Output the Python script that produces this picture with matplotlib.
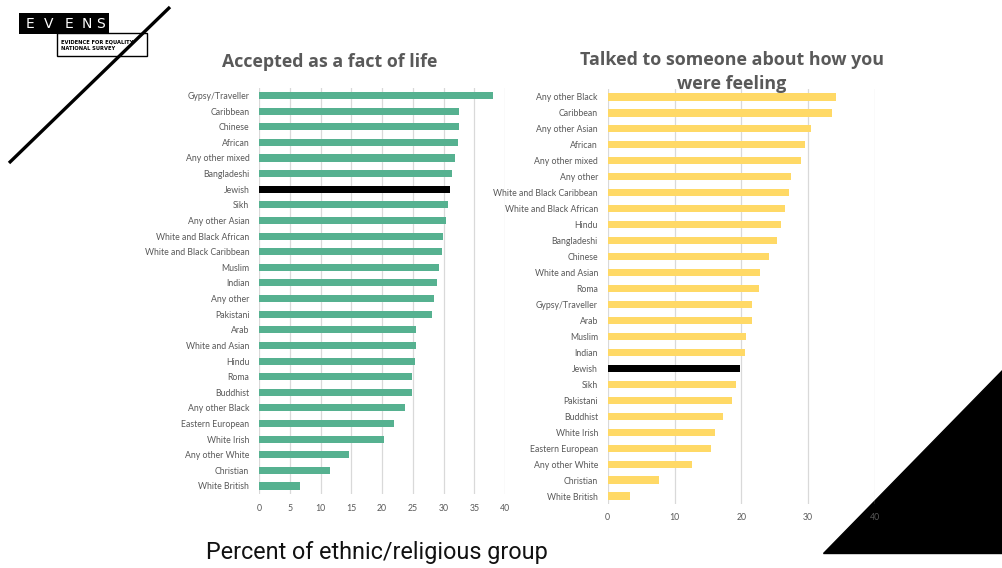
import numpy as np
import matplotlib
matplotlib.use("Agg")
import matplotlib.pyplot as plt
from matplotlib.patches import Polygon, Rectangle

# survey results: percent of each group
fact_groups = ["Gypsy/Traveller", "Caribbean", "Chinese", "African", "Any other mixed",
               "Bangladeshi", "Jewish", "Sikh", "Any other Asian", "White and Black African",
               "White and Black Caribbean", "Muslim", "Indian", "Any other", "Pakistani",
               "Arab", "White and Asian", "Hindu", "Roma", "Buddhist", "Any other Black",
               "Eastern European", "White Irish", "Any other White", "Christian", "White British"]
fact_pct = [38.0, 32.6, 32.6, 32.3, 31.8, 31.4, 31.1, 30.7, 30.4, 29.9, 29.7, 29.3, 28.9,
            28.5, 28.1, 25.5, 25.5, 25.3, 24.9, 24.8, 23.7, 22.0, 20.3, 14.6, 11.5, 6.7]

talk_groups = ["Any other Black", "Caribbean", "Any other Asian", "African", "Any other mixed",
               "Any other", "White and Black Caribbean", "White and Black African", "Hindu",
               "Bangladeshi", "Chinese", "White and Asian", "Roma", "Gypsy/Traveller", "Arab",
               "Muslim", "Indian", "Jewish", "Sikh", "Pakistani", "Buddhist", "White Irish",
               "Eastern European", "Any other White", "Christian", "White British"]
talk_pct = [34.1, 33.5, 30.4, 29.5, 28.9, 27.4, 27.1, 26.5, 26.0, 25.3, 24.2, 22.8, 22.7,
            21.6, 21.6, 20.7, 20.5, 19.8, 19.2, 18.6, 17.2, 16.1, 15.5, 12.6, 7.7, 3.4]

GREEN = "#56b190"
YELLOW = "#ffd966"
GREY_TXT = "#595959"
GRID = "#d9d9d9"
W, H = 1002, 568

plt.rcParams['font.family'] = ['Lato', 'DejaVu Sans']

fig = plt.figure(figsize=(W / 100, H / 100), dpi=100)

# background decorations in pixel coordinates
bg = fig.add_axes([0, 0, 1, 1], zorder=0)
bg.set_xlim(0, W)
bg.set_ylim(H, 0)
bg.axis("off")
bg.add_patch(Polygon([(823, 553), (W, 553), (W, 370)], closed=True, color="black"))
bg.plot([9, 170], [163, 7], color="black", lw=2.4, solid_capstyle="butt")
bg.add_patch(Rectangle((57, 33), 90, 23, facecolor="white", edgecolor="black", lw=1))
bg.add_patch(Rectangle((19, 13), 90, 21, facecolor="black", edgecolor="none"))
for x, ch in zip([30, 49, 69, 87, 101], "EVENS"):
    bg.text(x, 23.5, ch, color="white", fontsize=10, ha="center", va="center",
            family="DejaVu Sans")
bg.text(61, 41.5, "EVIDENCE FOR EQUALITY", fontsize=3.7, weight="bold", va="center",
        family="DejaVu Sans")
bg.text(61, 49, "NATIONAL SURVEY", fontsize=3.7, weight="bold", va="center",
        family="DejaVu Sans")
bg.text(377, 553, "Percent of ethnic/religious group", fontsize=16.8, ha="center",
        va="center", family="Roboto", color="#111111")


def px_axes(x0, x1, top, bottom):
    return fig.add_axes([x0 / W, (H - bottom) / H, (x1 - x0) / W, (bottom - top) / H], zorder=2)


def bar_panel(ax, groups, vals, colour, step, pad):
    n = len(groups)
    y = np.arange(n)[::-1]
    cols = ["black" if g == "Jewish" else colour for g in groups]
    ax.barh(y, vals, height=0.45, color=cols, zorder=3)
    ax.set_ylim(-0.5, n - 0.5)
    ax.set_xlim(0, 40)
    ax.set_yticks(y)
    ax.set_yticklabels(groups)
    ax.set_xticks(np.arange(0, 41, step))
    ax.grid(axis="x", color=GRID, lw=0.9, zorder=0)
    ax.patch.set_alpha(0)
    for s in ax.spines.values():
        s.set_visible(False)
    ax.tick_params(length=0, labelsize=6.3, labelcolor=GREY_TXT)
    ax.tick_params(axis="y", pad=7)
    ax.tick_params(axis="x", pad=pad)


ax1 = px_axes(259, 505, 87.7, 493.8)
bar_panel(ax1, fact_groups, fact_pct, GREEN, 5, 7)

ax2 = px_axes(607.7, 875, 89, 504)
bar_panel(ax2, talk_groups, talk_pct, YELLOW, 10, 6.5)

fig.text(330 / W, 1 - 62 / H, "Accepted as a fact of life", fontsize=12.8, weight="bold",
         color=GREY_TXT, ha="center", va="center", family="Open Sans")
fig.text(732 / W, 1 - 72 / H, "Talked to someone about how you\nwere feeling", fontsize=12.9,
         weight="bold", color=GREY_TXT, ha="center", va="center", family="Open Sans",
         linespacing=1.42, zorder=5)

fig.savefig("out.png", dpi=100)
